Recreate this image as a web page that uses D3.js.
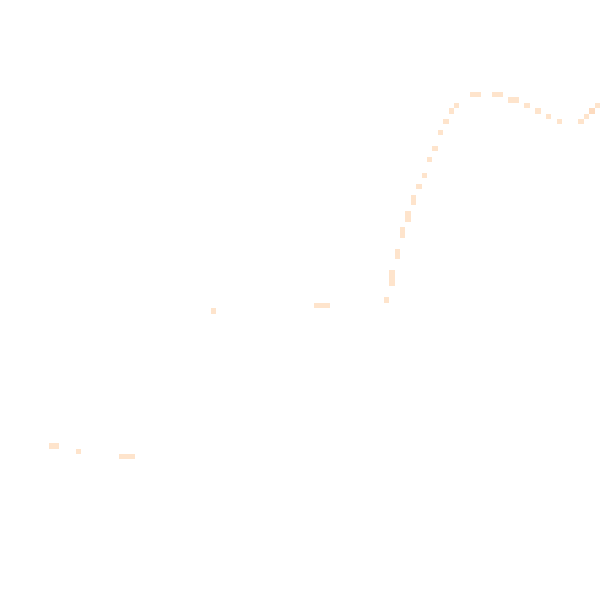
<!DOCTYPE html>
<html>
<head>
<meta charset="utf-8">
<script src="https://cdn.jsdelivr.net/npm/d3@7"></script>
<style>
  html, body { margin: 0; padding: 0; background: #fff; }
</style>
</head>
<body>
<div id="vis"></div>
<script>
var width = 600,
    height = 600,
    bins = 111;

// occupied cells of the binned line: column bin, row bin (from top), count
var binX = [9, 10, 14, 22, 23, 24, 39, 58, 59, 60, 71,
            72, 72, 72, 73, 73, 74, 74, 75, 75, 76, 76,
            77, 78, 79, 80, 81, 82, 83, 84,
            87, 88, 91, 92, 94, 95, 97, 99, 101, 103,
            107, 108, 109, 110];
var binY = [82, 82, 83, 84, 84, 84, 57, 56, 56, 56, 55,
            50, 51, 52, 46, 47, 42, 43, 39, 40, 36, 37,
            34, 32, 29, 27, 24, 22, 20, 19,
            17, 17, 17, 17, 18, 18, 19, 20, 21, 22,
            22, 21, 20, 19];
var counts = [1, 1, 1, 1, 1, 1, 1, 1, 1, 1, 1,
              1, 1, 1, 1, 1, 1, 1, 1, 1, 1, 1,
              1, 1, 1, 1, 1, 1, 1, 1,
              1, 1, 1, 1, 1, 1, 1, 1, 1, 1,
              1, 1, 2, 1];

var cells = binX.map(function(x, i) {
  return {x: x, y: binY[i], n: counts[i]};
});

var svg = d3.select("#vis").append("svg")
    .attr("width", width)
    .attr("height", height);

var x = d3.scaleBand()
    .domain(d3.range(bins))
    .range([0, width]);

var y = d3.scaleBand()
    .domain(d3.range(bins))
    .range([0, height]);

var color = d3.scaleLinear()
    .domain([1, 2])
    .range(["#fee4cc", "#fddbbf"]);

svg.selectAll("rect")
    .data(cells)
  .enter().append("rect")
    .attr("x", function(d) { return x(d.x); })
    .attr("y", function(d) { return y(d.y); })
    .attr("width", x.bandwidth())
    .attr("height", y.bandwidth())
    .attr("shape-rendering", "crispEdges")
    .attr("fill", function(d) { return color(d.n); });
</script>
</body>
</html>
